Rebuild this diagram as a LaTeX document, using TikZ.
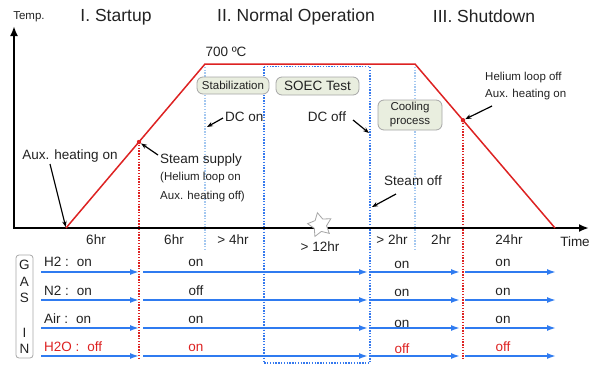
\documentclass[tikz,border=0pt]{standalone}
\usepackage{fontspec}
\setmainfont{Liberation Sans}
\usetikzlibrary{arrows.meta,shapes.geometric}
\definecolor{cred}{HTML}{DD2222}
\definecolor{cblue}{HTML}{2F7BF0}
\definecolor{lblue}{HTML}{A4C8F0}
\definecolor{dblue}{HTML}{3579EE}
\definecolor{boxfill}{HTML}{E9EEDF}
\definecolor{txt}{HTML}{222222}
\begin{document}
\begin{tikzpicture}[x=1pt,y=-1pt,
 lab/.style={font=\fontsize{13.5}{15}\selectfont, text=txt, inner sep=0pt},
 small/.style={font=\fontsize{11.5}{14}\selectfont, text=txt, inner sep=0pt},
 ttl/.style={font=\fontsize{17.5}{20}\selectfont, text=txt, inner sep=0pt},
 phase/.style={draw=gray!70, fill=boxfill, rounded corners=6pt, line width=0.8pt},
 axis/.style={line width=2pt, {Latex[length=10pt,width=8pt]}-{Latex[length=10pt,width=8pt]}},
 curve/.style={draw=cred, line width=1.5pt},
 gas/.style={draw=cblue, line width=1.6pt, -{Latex[length=9pt,width=6pt]}},
 pointer/.style={line width=1.2pt, -{Stealth[length=6pt,width=4.5pt]}},
 rdot/.style={cred, line width=1.3pt, dash pattern=on 1.4pt off 1.4pt},
 lbdot/.style={lblue, line width=1.3pt, dash pattern=on 1.4pt off 1.4pt},
 dbdot/.style={dblue, line width=1.3pt, dash pattern=on 1.4pt off 1.4pt},
]
\useasboundingbox (0,0) rectangle (590,365);
% key points
\coordinate (O) at (14,228);
\coordinate (Ytop) at (14,26);
\coordinate (Xend) at (589,228);
\coordinate (c0) at (66,228);
\coordinate (c1) at (205,64);
\coordinate (c2) at (415,64);
\coordinate (c3) at (555,228);
\coordinate (s1) at (139,142);
\coordinate (s2) at (463,120.2);
\coordinate (s1b) at (139,359);
\coordinate (s2b) at (463,359);
\coordinate (c1b) at (205,251);
\coordinate (c2b) at (415,251);
\coordinate (bx1) at (264,66.5);
\coordinate (bx2) at (370,363);
% dotted guides
\draw[lbdot] (c1) -- (c1b);
\draw[lbdot] (c2) -- (c2b);
\draw[dbdot] (bx1) rectangle (bx2);
\draw[rdot] (s1) -- (s1b);
\draw[rdot] (s2) -- (s2b);
% axes
\draw[axis] (Ytop) -- (O) -- (Xend);
% temperature profile
\draw[curve] (c0) -- (c1) -- (c2) -- (c3);
\fill[cred] (s1) circle (2.2);
\fill[cred] (s2) circle (2.2);
% star
\node[star, star points=5, star point ratio=1.9, draw=gray!70, fill=white, minimum size=25pt, inner sep=0pt, rotate=12, line width=0.8pt] (star) at (320,225) {};
% titles
\node[small] (temp) at (29,17) {Temp.};
\node[ttl] (t1) at (116,17) {I. Startup};
\node[ttl] (t2) at (296,17) {II. Normal Operation};
\node[ttl] (t3) at (484,16) {III. Shutdown};
\node[lab] (t700) at (226,52) {700 ºC};
% phase boxes
\node[small, phase, minimum width=72pt, minimum height=17pt] (stab) at (233,85.5) {Stabilization};
\node[lab, phase, minimum width=83pt, minimum height=18pt] (soec) at (317.5,86) {SOEC Test};
\node[small, phase, align=center, minimum width=64pt, minimum height=30pt] (cool) at (410,115) {Cooling\\process};
% annotations
\node[lab] (auxon) at (70,156) {Aux. heating on};
\coordinate (auxtail) at (50,164);
\draw[pointer, shorten >=1pt] (auxtail) -- (c0);
\node[lab, anchor=west] (steam) at (160,160) {Steam supply};
\coordinate (steamtail) at (158,155);
\draw[pointer, shorten >=2.5pt] (steamtail) -- (s1);
\node[font=\fontsize{11.5}{19}\selectfont, text=txt, inner sep=0pt, anchor=west, align=left] (helon) at (160,187.5) {(Helium loop on\\Aux. heating off)};
\node[lab, anchor=west] (dcon) at (225,117) {DC on};
\coordinate (dcontail) at (223,118);
\coordinate (dcontip) at (207,127);
\draw[pointer] (dcontail) -- (dcontip);
\node[lab] (dcoff) at (327,117) {DC off};
\coordinate (dcofftail) at (353,120);
\coordinate (dcofftip) at (369,133);
\draw[pointer] (dcofftail) -- (dcofftip);
\node[lab] (steamoff) at (413,181) {Steam off};
\coordinate (sofftail) at (396,194);
\coordinate (sofftip) at (372,207);
\draw[pointer] (sofftail) -- (sofftip);
\node[font=\fontsize{11.5}{17}\selectfont, text=txt, inner sep=0pt, anchor=west, align=left] (heloff) at (485,86.5) {Helium loop off\\Aux. heating on};
\coordinate (hofftail) at (492,106);
\draw[pointer, shorten >=2.5pt] (hofftail) -- (s2);
% durations
\node[lab] (time) at (575,242) {Time};
\node[lab] (d1) at (96,240) {6hr};
\node[lab] (d2) at (174,240) {6hr};
\node[lab] (d3) at (233,240) {\textgreater{} 4hr};
\node[lab] (d4) at (320,247) {\textgreater{} 12hr};
\node[lab] (d5) at (392,240) {\textgreater{} 2hr};
\node[lab] (d6) at (441,240) {2hr};
\node[lab] (d7) at (509,240) {24hr};
% GAS IN box
\node[draw=gray!70, rounded corners=3pt, minimum width=17pt, minimum height=103pt, line width=0.8pt, inner sep=0pt] (gasbox) at (24.5,306.5) {};
\node[lab] (gG) at (24.5,265) {G};
\node[lab] (gA) at (24.5,282) {A};
\node[lab] (gS) at (24.5,298) {S};
\node[lab] (gI) at (24.5,333) {I};
\node[lab] (gN) at (24.5,349) {N};
% gas arrows
\foreach \y [count=\i] in {272,300,328,356} {
  \coordinate (a\i) at (41,\y);
  \coordinate (b\i) at (139,\y);
  \coordinate (e\i) at (143,\y);
  \coordinate (f\i) at (368,\y);
  \coordinate (g\i) at (371,\y);
  \coordinate (h\i) at (460,\y);
  \coordinate (k\i) at (465,\y);
  \coordinate (m\i) at (556,\y);
  \draw[gas] (a\i) -- (b\i);
  \draw[gas] (e\i) -- (f\i);
  \draw[gas] (g\i) -- (h\i);
  \draw[gas] (k\i) -- (m\i);
}
% gas labels
\node[lab, anchor=west] (l1) at (44,262) {H2 :\hspace{8pt}on};
\node[lab, anchor=west] (l2) at (44,291) {N2 :\hspace{8pt}on};
\node[lab, anchor=west] (l3) at (44,319) {Air :\hspace{8pt}on};
\node[lab, anchor=west, text=cred] (l4) at (44,347) {H2O :\hspace{8pt}off};
\node[lab] (p1) at (196,263) {on};
\node[lab] (p2) at (196,291) {off};
\node[lab] (p3) at (196,320) {on};
\node[lab, text=cred] (p4) at (196,348) {on};
\node[lab] (q1) at (402,265) {on};
\node[lab] (q2) at (402,293) {on};
\node[lab] (q3) at (402,324) {on};
\node[lab, text=cred] (q4) at (402,349) {off};
\node[lab] (r1) at (503,263) {on};
\node[lab] (r2) at (503,292) {on};
\node[lab] (r3) at (503,320) {on};
\node[lab, text=cred] (r4) at (503,347) {off};
\end{tikzpicture}
\end{document}
